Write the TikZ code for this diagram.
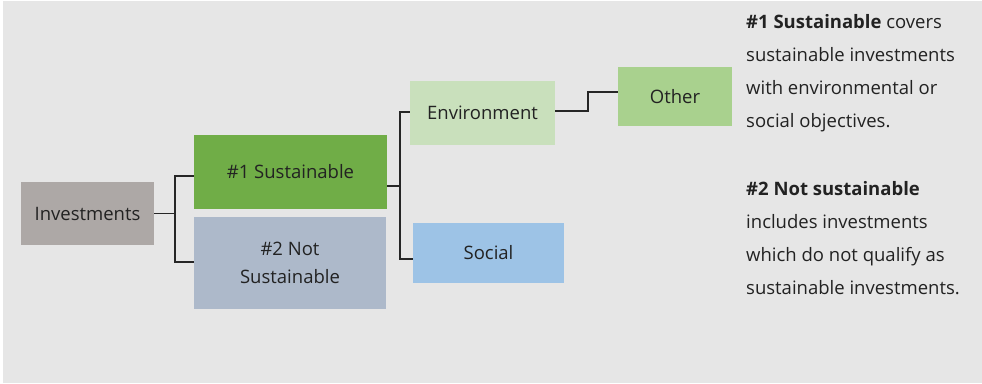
\documentclass[tikz,border=0pt]{standalone}
\usepackage{fontspec}
\setmainfont{Open Sans}
\usetikzlibrary{positioning}
\definecolor{bggrey}{HTML}{E6E6E6}
\definecolor{invgrey}{HTML}{ADA8A6}
\definecolor{susgreen}{HTML}{70AD47}
\definecolor{notblue}{HTML}{ADB9CA}
\definecolor{envgreen}{HTML}{C9E0BC}
\definecolor{socblue}{HTML}{9DC3E6}
\definecolor{othgreen}{HTML}{A9D18E}
\definecolor{inkgrey}{HTML}{222222}
\tikzset{
  box/.style={minimum width=#1, inner sep=0pt, align=center, text=inkgrey, font=\fontsize{18.5}{28}\selectfont},
  link/.style={draw=black!85, line width=1.6pt},
}
\begin{document}
\begin{tikzpicture}[x=1pt,y=-1pt]
\useasboundingbox (0,0) rectangle (982,383);
\fill[white] (0,0) rectangle (982,383);
\fill[bggrey] (3,1) rectangle (982,383);
% boxes
\node[box=133pt, minimum height=63pt, fill=invgrey] (inv) at (87.5,213.5) {Investments};
\node[box=193pt, minimum height=74pt, fill=susgreen] (sus) at (290.5,172) {\#1 Sustainable};
\node[box=192pt, minimum height=92pt, fill=notblue] (not) at (290,263) {\#2 Not\\Sustainable};
\node[box=145pt, minimum height=64pt, fill=envgreen] (env) at (482.5,113) {Environment};
\node[box=151pt, minimum height=60pt, fill=socblue] (soc) at (488.5,253) {Social};
\node[box=114pt, minimum height=59pt, fill=othgreen] (oth) at (675,96.5) {Other};
% connectors
\draw[link] (inv.east) -- ++(21,0) coordinate (j1) |- (sus.west |- 0,176);
\draw[link] (j1) |- (not.west |- 0,262);
\draw[link] (sus.east |- 0,186) -- ++(13,0) coordinate (j2) |- (env.west |- 0,112);
\draw[link] (j2) |- (soc.west |- 0,259);
\draw[link] (env.east |- 0,111) -| (588,92) -- (oth.west |- 0,92);
% notes
\node[anchor=north west, align=left, inner sep=0pt, text=inkgrey, font=\fontsize{18.5}{33}\selectfont] (notes) at (746,14)
  {\textbf{\#1 Sustainable} covers\\sustainable investments\\with environmental or\\social objectives.\\[35pt]
   \textbf{\#2 Not sustainable}\\includes investments\\which do not qualify as\\sustainable investments.};
\end{tikzpicture}
\end{document}
